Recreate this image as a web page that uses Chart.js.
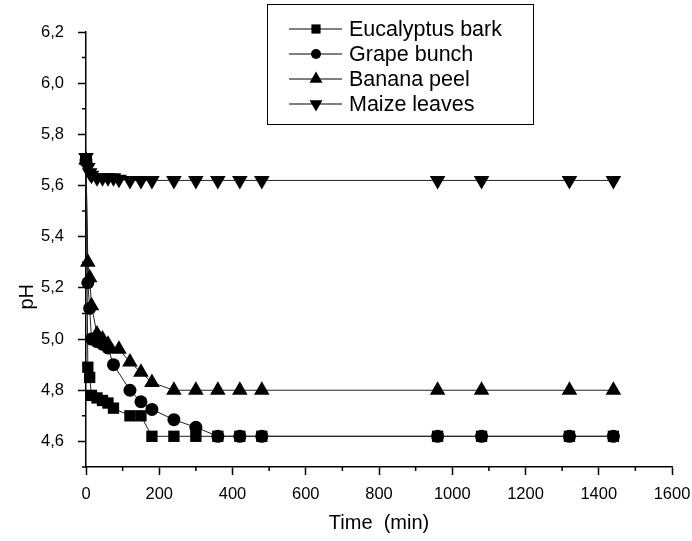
<!DOCTYPE html>
<html>
<head>
<meta charset="utf-8">
<script src="https://cdn.jsdelivr.net/npm/chart.js@4.4.0/dist/chart.umd.min.js"></script>
<style>
  html, body { margin: 0; padding: 0; background: #fff; }
  canvas { display: block; }
</style>
</head>
<body>
<canvas id="myChart" width="692" height="541"></canvas>
<script>
//DATOS
const tiempos = [0, 5, 10, 15, 30, 45, 60, 75, 90, 120, 150, 180, 240, 300, 360, 420, 480, 960, 1080, 1320, 1440];
const eucalipto = [5.70, 4.89, 4.85, 4.78, 4.77, 4.76, 4.75, 4.73, null, 4.70, 4.70, 4.62, 4.62, 4.62, 4.62, 4.62, 4.62, 4.62, 4.62, 4.62, 4.62];
const uva = [5.70, 5.22, 5.12, 5.00, 4.99, 4.98, 4.965, 4.90, null, 4.80, 4.755, 4.725, 4.685, 4.655, 4.62, 4.62, 4.62, 4.62, 4.62, 4.62, 4.62];
const banano = [5.70, 5.30, 5.24, 5.13, 5.02, 5.00, 4.98, null, 4.96, 4.91, 4.87, 4.83, 4.80, 4.80, 4.80, 4.80, 4.80, 4.80, 4.80, 4.80, 4.80];
const maiz = [5.71, 5.67, 5.65, 5.64, 5.63, 5.63, 5.63, 5.63, 5.625, 5.62, 5.62, 5.62, 5.62, 5.62, 5.62, 5.62, 5.62, 5.62, 5.62, 5.62, 5.62];
const nombres = ["Eucalyptus bark", "Grape bunch", "Banana peel", "Maize leaves"];
const yTicks = [4.6, 4.8, 5.0, 5.2, 5.4, 5.6, 5.8, 6.0, 6.2];
const xTicks = [0, 200, 400, 600, 800, 1000, 1200, 1400, 1600];
const yMenores = [4.5, 4.7, 4.9, 5.1, 5.3, 5.5, 5.7, 5.9, 6.1];
const xMenores = [100, 300, 500, 700, 900, 1100, 1300, 1500];

//CONSTANTES
const FUENTE = "Arial, 'Liberation Sans', sans-serif";
const estilos = [
  { pointStyle: "rect", radius: 8, rotation: 0 },
  { pointStyle: "circle", radius: 6.5, rotation: 0 },
  { pointStyle: "triangle", radius: 9, rotation: 0 },
  { pointStyle: "triangle", radius: 9, rotation: 180 },
];

//FUNCIONES
function serie(i, valores) {
  return {
    label: nombres[i],
    data: valores,
    borderColor: "#222",
    borderWidth: 1,
    backgroundColor: "#000",
    pointBackgroundColor: "#000",
    pointBorderColor: "#000",
    pointBorderWidth: 0,
    pointStyle: estilos[i].pointStyle,
    pointRadius: estilos[i].radius,
    pointRotation: estilos[i].rotation,
    pointHoverRadius: estilos[i].radius,
    spanGaps: true,
    tension: 0,
    clip: false,
    order: 4 - i,
  };
}

// ticks menores del eje
const ticksMenores = {
  id: "ticksMenores",
  afterDraw(chart) {
    const ctx = chart.ctx;
    const x = chart.scales.x;
    const y = chart.scales.y;
    ctx.save();
    ctx.strokeStyle = "#000";
    ctx.lineWidth = 1.5;
    ctx.beginPath();
    xMenores.forEach((v) => {
      const px = x.getPixelForValue(v);
      ctx.moveTo(px, x.top);
      ctx.lineTo(px, x.top + 4);
    });
    yMenores.forEach((v) => {
      const py = y.getPixelForValue(v);
      ctx.moveTo(y.right, py);
      ctx.lineTo(y.right - 4, py);
    });
    ctx.stroke();
    ctx.restore();
  },
};

// leyenda con linea + marcador
const leyenda = {
  id: "leyenda",
  afterDraw(chart) {
    const ctx = chart.ctx;
    ctx.save();
    ctx.strokeStyle = "#000";
    ctx.lineWidth = 1;
    ctx.strokeRect(267.5, 4.5, 266, 120);
    nombres.forEach((nombre, i) => {
      const yy = 29 + i * 25;
      ctx.strokeStyle = "#000";
      ctx.lineWidth = 1;
      ctx.beginPath();
      ctx.moveTo(289, yy);
      ctx.lineTo(342, yy);
      ctx.stroke();
      ctx.fillStyle = "#000";
      Chart.helpers.drawPoint(ctx, {
        pointStyle: estilos[i].pointStyle,
        radius: estilos[i].radius - 1.5,
        rotation: estilos[i].rotation,
        borderWidth: 0,
      }, 316, yy);
      ctx.fillStyle = "#000";
      ctx.font = "21.5px " + FUENTE;
      ctx.textBaseline = "middle";
      ctx.textAlign = "left";
      ctx.fillText(nombre, 349, yy + 1);
    });
    ctx.restore();
  },
};

const data = {
  labels: tiempos,
  datasets: [serie(0, eucalipto), serie(1, uva), serie(2, banano), serie(3, maiz)],
};

const config = {
  type: "line",
  data: data,
  plugins: [ticksMenores, leyenda],
  options: {
    responsive: false,
    devicePixelRatio: 1,
    animation: false,
    layout: { padding: { top: 32, right: 20, left: 0, bottom: 0 } },
    plugins: {
      legend: { display: false },
      tooltip: { enabled: false },
    },
    scales: {
      x: {
        type: "linear",
        min: 0,
        max: 1600,
        afterFit: (s) => {
          s.height = 74;
          s.paddingLeft = 0;
          s.paddingRight = 0;
        },
        afterBuildTicks: (s) => { s.ticks = xTicks.map((v) => ({ value: v })); },
        grid: { drawOnChartArea: false, drawTicks: true, tickLength: 8, tickColor: "#000", tickWidth: 1.5 },
        border: { display: true, color: "#000", width: 1.5 },
        ticks: {
          color: "#000",
          font: { family: FUENTE, size: 16.5 },
          padding: 10,
          maxRotation: 0,
          autoSkip: false,
          callback: (v) => String(v),
        },
        title: { display: true, text: "Time  (min)", color: "#000", font: { family: FUENTE, size: 20 }, padding: { top: 0, bottom: 6 } },
      },
      y: {
        min: 4.5,
        max: 6.2,
        afterFit: (s) => { s.width = 86; },
        afterBuildTicks: (s) => { s.ticks = yTicks.map((v) => ({ value: v })); },
        grid: { drawOnChartArea: false, drawTicks: true, tickLength: 8, tickColor: "#000", tickWidth: 1.5 },
        border: { display: true, color: "#000", width: 1.5 },
        ticks: {
          color: "#000",
          font: { family: FUENTE, size: 16.5 },
          padding: 14,
          autoSkip: false,
          callback: (v) => Number(v).toFixed(1).replace(".", ","),
        },
        title: { display: true, text: "pH" + "\u00a0".repeat(17), color: "#000", font: { family: FUENTE, size: 20 }, padding: { top: 15, bottom: 0 } },
      },
    },
  },
};

//EVENTOS
const myChart = new Chart(document.getElementById("myChart"), config);
</script>
</body>
</html>
